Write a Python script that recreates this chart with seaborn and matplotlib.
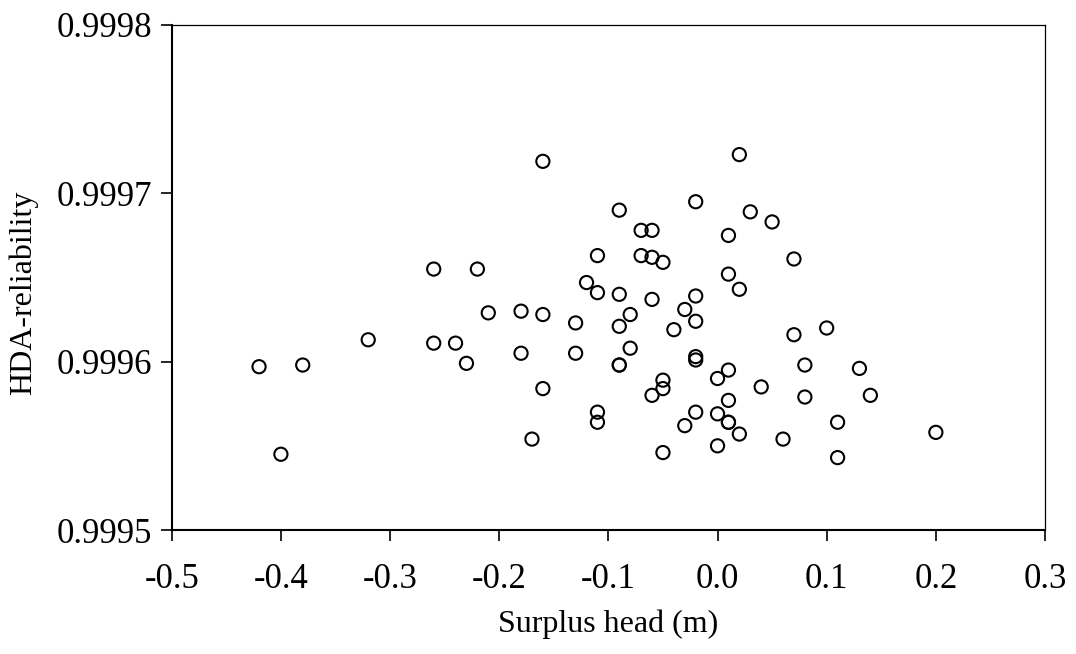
import matplotlib
matplotlib.use("Agg")
import matplotlib.pyplot as plt
import seaborn as sns
import pandas as pd
from matplotlib.ticker import FormatStrFormatter

surplus_head = [
    -0.42, -0.40, -0.38, -0.32, -0.26, -0.26, -0.24, -0.23, -0.22, -0.21,
    -0.18, -0.18, -0.17, -0.16, -0.16, -0.16, -0.13, -0.13, -0.12, -0.11,
    -0.11, -0.11, -0.11, -0.09, -0.09, -0.09, -0.09, -0.09, -0.08, -0.08,
    -0.07, -0.07, -0.06, -0.06, -0.06, -0.06, -0.05, -0.05, -0.05, -0.05,
    -0.04, -0.03, -0.03, -0.02, -0.02, -0.02, -0.02, -0.02, -0.02, 0.00,
    0.00, 0.00, 0.01, 0.01, 0.01, 0.01, 0.01, 0.01, 0.02, 0.02,
    0.02, 0.03, 0.04, 0.05, 0.06, 0.07, 0.07, 0.08, 0.08, 0.10,
    0.11, 0.11, 0.13, 0.14, 0.20,
]
hda_reliability = [
    0.999597, 0.999545, 0.999598, 0.999613, 0.999655, 0.999611, 0.999611, 0.999599, 0.999655, 0.999629,
    0.999630, 0.999605, 0.999554, 0.999719, 0.999628, 0.999584, 0.999623, 0.999605, 0.999647, 0.999663,
    0.999641, 0.999570, 0.999564, 0.999690, 0.999640, 0.999621, 0.999598, 0.999598, 0.999628, 0.999608,
    0.999678, 0.999663, 0.999678, 0.999662, 0.999637, 0.999580, 0.999659, 0.999589, 0.999584, 0.999546,
    0.999619, 0.999631, 0.999562, 0.999695, 0.999639, 0.999624, 0.999603, 0.999601, 0.999570, 0.999590,
    0.999569, 0.999550, 0.999675, 0.999652, 0.999595, 0.999577, 0.999564, 0.999564, 0.999723, 0.999643,
    0.999557, 0.999689, 0.999585, 0.999683, 0.999554, 0.999661, 0.999616, 0.999598, 0.999579, 0.999620,
    0.999564, 0.999543, 0.999596, 0.999580, 0.999558,
]
x_ticks = [-0.5, -0.4, -0.3, -0.2, -0.1, 0.0, 0.1, 0.2, 0.3]
y_ticks = [0.9995, 0.9996, 0.9997, 0.9998]

df = pd.DataFrame({"Surplus head (m)": surplus_head, "HDA-reliability": hda_reliability})

sns.set_style("ticks")
plt.rcParams["font.family"] = ["Liberation Serif", "DejaVu Serif"]
plt.rcParams["axes.unicode_minus"] = False
plt.rcParams["text.color"] = "black"
plt.rcParams["axes.labelcolor"] = "black"
plt.rcParams["xtick.color"] = "black"
plt.rcParams["ytick.color"] = "black"

fig = plt.figure(figsize=(10.76, 6.54), dpi=100)
ax = fig.add_axes([0.1596, 0.1896, 0.9712 - 0.1596, 0.9618 - 0.1896])

sns.scatterplot(data=df, x="Surplus head (m)", y="HDA-reliability", ax=ax,
                marker="o", s=90, facecolor="none", edgecolor="black", linewidth=1.5)

ax.set_xlim(x_ticks[0], x_ticks[-1])
ax.set_ylim(y_ticks[0], y_ticks[-1])
ax.set_xticks(x_ticks)
ax.set_yticks(y_ticks)
ax.xaxis.set_major_formatter(FormatStrFormatter("%.1f"))
ax.yaxis.set_major_formatter(FormatStrFormatter("%.4f"))
ax.tick_params(axis="both", direction="out", length=8, width=1.2, labelsize=25,
               colors="black")
ax.tick_params(axis="x", pad=16)
ax.tick_params(axis="y", pad=6)
ax.set_xlabel("Surplus head (m)", fontsize=23)
ax.set_ylabel("HDA-reliability", fontsize=23)
ax.yaxis.set_label_coords(-0.153, 0.47)
ax.xaxis.set_label_coords(0.5, -0.158)

for side in ["left", "bottom"]:
    ax.spines[side].set_linewidth(1.5)
    ax.spines[side].set_color("black")
for side in ["top", "right"]:
    ax.spines[side].set_visible(True)
    ax.spines[side].set_linewidth(0.9)
    ax.spines[side].set_color("black")

fig.savefig("out.png", dpi=100, facecolor="white")
